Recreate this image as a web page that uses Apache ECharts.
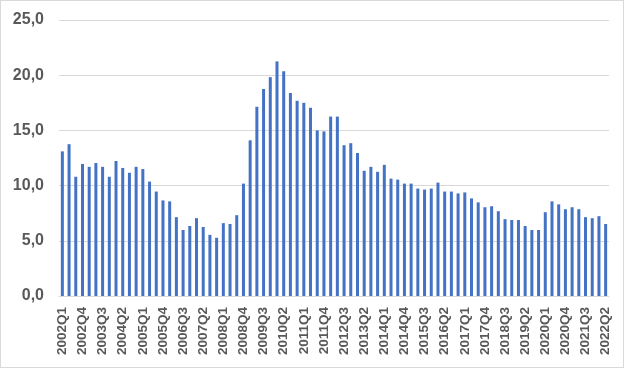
<!DOCTYPE html>
<html><head><meta charset="utf-8">
<script src="https://cdn.jsdelivr.net/npm/echarts@6/dist/echarts.min.js"></script>
<style>html,body{margin:0;padding:0;background:#fff}#c{width:624px;height:368px;box-sizing:border-box;border:1px solid #d9d9d9}</style>
</head><body><div id="c"></div>
<script>
const years = [];
for (let y = 2002; y <= 2022; y++) years.push(y);
const categories = [];
years.forEach(y => { for (let q = 1; q <= 4; q++) { if (y === 2022 && q > 2) break; categories.push(y + 'Q' + q); } });
const values = [
 13.1, 13.75, 10.8, 11.96,
 11.7, 12.05, 11.7, 10.8,
 12.23, 11.6, 11.16, 11.7,
 11.5, 10.36, 9.46, 8.66,
 8.57, 7.14, 5.98, 6.34,
 7.05, 6.25, 5.54, 5.27,
 6.6, 6.52, 7.32, 10.18,
 14.1, 17.14, 18.75, 19.82,
 21.25, 20.36, 18.39, 17.68,
 17.5, 17.05, 15.0, 14.91,
 16.25, 16.25, 13.66, 13.84,
 12.95, 11.34, 11.7, 11.25,
 11.88, 10.63, 10.54, 10.18,
 10.18, 9.73, 9.64, 9.73,
 10.27, 9.46, 9.46, 9.29,
 9.38, 8.84, 8.48, 8.04,
 8.13, 7.68, 6.96, 6.88,
 6.88, 6.34, 5.98, 5.98,
 7.59, 8.57, 8.3, 7.86,
 8.04, 7.86, 7.14, 7.05,
 7.23, 6.52
];
const yTicks = [0, 5, 10, 15, 20, 25];
const chart = echarts.init(document.getElementById('c'));
chart.setOption({
  animation: false,
  grid: {left: 58, right: 14, top: 19, bottom: 71},
  xAxis: {
    type: 'category', data: categories,
    axisTick: {show: false},
    axisLine: {lineStyle: {color: '#d9d9d9'}},
    axisLabel: {interval: 2, rotate: 90, color: '#595959', fontFamily: 'Liberation Sans, Arial', fontSize: 13.5, fontWeight: 'bold', margin: 11}
  },
  yAxis: {
    type: 'value', min: yTicks[0], max: yTicks[yTicks.length - 1], interval: 5,
    axisLine: {show: false}, axisTick: {show: false},
    splitLine: {lineStyle: {color: '#d9d9d9'}},
    axisLabel: {color: '#595959', fontFamily: 'Liberation Sans, Arial', fontSize: 16, fontWeight: 'bold', margin: 15,
      formatter: v => v.toFixed(1).replace('.', ',')}
  },
  series: [{type: 'bar', data: values, barWidth: 3, itemStyle: {color: '#4472c4'}}]
});
</script></body></html>
